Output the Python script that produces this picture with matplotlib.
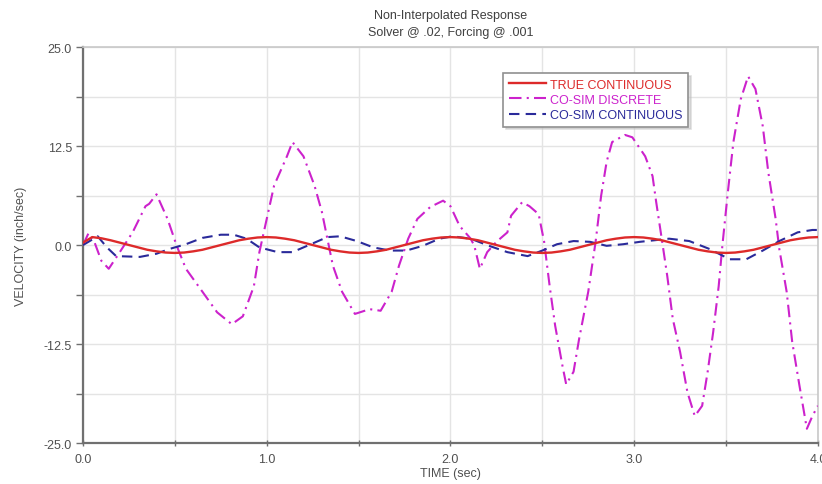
import numpy as np
import matplotlib
matplotlib.use("Agg")
import matplotlib.pyplot as plt
from matplotlib.ticker import MultipleLocator, FormatStrFormatter

plt.rcParams['font.family'] = ['Liberation Sans', 'DejaVu Sans']

# TRUE CONTINUOUS, sampled every 0.05 s
t_true = np.round(np.arange(81) * 0.05, 2)
v_true = [0.3, 1.0, 0.85, 0.6, 0.3, 0.0, -0.3, -0.6, -0.8, -0.95,
          -1.0, -0.95, -0.8, -0.6, -0.3, 0.0, 0.3, 0.6, 0.8, 0.95,
          1.0, 0.95, 0.8, 0.6, 0.3, 0.0, -0.3, -0.6, -0.8, -0.95,
          -1.0, -0.95, -0.8, -0.6, -0.3, 0.0, 0.3, 0.6, 0.8, 0.95,
          1.0, 0.95, 0.8, 0.6, 0.3, 0.0, -0.3, -0.6, -0.8, -0.95,
          -1.0, -0.95, -0.8, -0.6, -0.3, 0.0, 0.3, 0.6, 0.8, 0.95,
          1.0, 0.95, 0.8, 0.6, 0.3, 0.0, -0.3, -0.6, -0.8, -0.95,
          -1.0, -0.95, -0.8, -0.6, -0.3, 0.0, 0.3, 0.6, 0.8, 0.95,
          1.0]

# CO-SIM DISCRETE
t_disc = [0.00, 0.03, 0.06, 0.10, 0.14, 0.20, 0.27, 0.34, 0.36, 0.40,
          0.46, 0.51, 0.56, 0.65, 0.73, 0.81, 0.87, 0.93, 0.96, 1.00,
          1.04, 1.11, 1.14, 1.20, 1.26, 1.30, 1.33, 1.36, 1.41, 1.48,
          1.56, 1.62, 1.68, 1.72, 1.77, 1.82, 1.89, 1.96, 2.00, 2.05,
          2.11, 2.13, 2.16, 2.20, 2.25, 2.31, 2.33, 2.39, 2.43, 2.48,
          2.51, 2.54, 2.57, 2.61, 2.63, 2.67, 2.70, 2.75, 2.79, 2.82,
          2.85, 2.88, 2.95, 2.99, 3.06, 3.10, 3.12, 3.15, 3.18, 3.21,
          3.25, 3.29, 3.33, 3.37, 3.40, 3.43, 3.46, 3.48, 3.51, 3.54,
          3.58, 3.62, 3.66, 3.70, 3.73, 3.77, 3.79, 3.83, 3.86, 3.90,
          3.94, 3.97, 4.00]
v_disc = [0.0, 1.5, 0.5, -2.0, -3.0, -0.9, 1.6, 4.9, 5.2, 6.4,
          3.3, -0.1, -3.0, -5.9, -8.5, -10.0, -9.0, -5.2, -0.9, 3.3,
          7.5, 11.2, 13.0, 11.2, 7.5, 4.2, 0.8, -2.6, -5.9, -8.7,
          -8.1, -8.3, -5.9, -2.6, 0.8, 3.3, 4.8, 5.6, 4.9, 2.4,
          0.8, -0.1, -3.0, -0.9, 0.4, 1.6, 3.7, 5.4, 4.9, 3.9,
          0.4, -5.2, -10.2, -15.3, -17.6, -16.0, -11.9, -5.9, 0.4, 6.2,
          10.5, 13.0, 13.9, 13.6, 11.2, 8.7, 5.4, 0.8, -3.9, -9.3,
          -13.5, -18.6, -21.6, -20.3, -16.0, -11.0, -5.2, -0.1, 6.7, 13.0,
          18.4, 21.3, 19.7, 15.0, 9.2, 3.3, -0.5, -5.9, -12.2, -17.8,
          -23.2, -21.6, -20.3]

# CO-SIM CONTINUOUS
t_cont = [0.00, 0.08, 0.13, 0.18, 0.31, 0.40, 0.47, 0.56, 0.65, 0.75,
          0.82, 0.89, 0.96, 1.06, 1.14, 1.24, 1.33, 1.40, 1.49, 1.58,
          1.67, 1.76, 1.85, 1.94, 2.01, 2.11, 2.21, 2.31, 2.42, 2.50,
          2.58, 2.67, 2.76, 2.85, 2.94, 3.03, 3.19, 3.30, 3.41, 3.52,
          3.61, 3.70, 3.79, 3.89, 3.97, 4.00]
v_cont = [0.0, 1.1, -0.3, -1.4, -1.5, -1.1, -0.5, 0.1, 0.9, 1.3,
          1.3, 0.8, -0.3, -0.9, -0.9, 0.1, 1.0, 1.1, 0.5, -0.3,
          -0.7, -0.7, -0.1, 0.8, 1.1, 0.8, -0.1, -0.9, -1.4, -0.7,
          0.1, 0.5, 0.4, -0.1, 0.1, 0.4, 0.8, 0.5, -0.5, -1.8,
          -1.8, -0.7, 0.5, 1.6, 1.9, 1.9]

red = '#dd2a2a'
magenta = '#cc22cc'
blue = '#2a2a9a'
gray = '#707070'
txt = '#505050'

fig = plt.figure(figsize=(8.22, 4.85), dpi=100)
ax = fig.add_axes([0.101, 0.0845, 0.894, 0.8165])

ax.plot(t_true, v_true, color=red, lw=1.7, label='TRUE CONTINUOUS', zorder=4)
ax.plot(t_disc, v_disc, color=magenta, lw=1.5, linestyle=(0, (6, 2.5, 1, 2.5)),
        label='CO-SIM DISCRETE', zorder=3)
ax.plot(t_cont, v_cont, color=blue, lw=1.5, linestyle=(0, (5, 3)),
        label='CO-SIM CONTINUOUS', zorder=3)

ax.set_xlim(0, 4)
ax.set_ylim(-25, 25)
ax.xaxis.set_major_locator(MultipleLocator(1.0))
ax.xaxis.set_minor_locator(MultipleLocator(0.5))
ax.yaxis.set_major_locator(MultipleLocator(12.5))
ax.yaxis.set_minor_locator(MultipleLocator(6.25))
ax.xaxis.set_major_formatter(FormatStrFormatter('%.1f'))
ax.yaxis.set_major_formatter(FormatStrFormatter('%.1f'))
ax.grid(True, which='both', color='#e4e4e4', lw=1.0, zorder=0)
ax.set_axisbelow(True)

for s in ['top', 'right']:
    ax.spines[s].set_color('#c8c8c8')
    ax.spines[s].set_linewidth(1.2)
for s in ['left', 'bottom']:
    ax.spines[s].set_color(gray)
    ax.spines[s].set_linewidth(1.6)
ax.tick_params(axis='y', which='both', direction='out', color=gray, labelcolor=txt,
               labelsize=9, length=5, width=1, pad=3)
ax.tick_params(axis='x', which='both', direction='inout', color=gray, labelcolor=txt,
               labelsize=9, length=5, width=1, pad=5)

ax.set_xlabel('TIME (sec)', fontsize=9, color=txt, labelpad=1)
ax.set_ylabel('VELOCITY (inch/sec)', fontsize=9, color=txt, labelpad=12)
ax.set_title('Non-Interpolated Response\nSolver @ .02, Forcing @ .001',
             fontsize=9, color='#404040', pad=9, linespacing=1.45)

leg = ax.legend(loc='upper left', bbox_to_anchor=(0.563, 0.95), fontsize=9,
                labelcolor='linecolor', frameon=True, fancybox=False,
                shadow={'color': '#c0c0c0'},
                edgecolor='#909090', handlelength=3.0, handletextpad=0.3,
                borderpad=0.45, labelspacing=0.25)
leg.get_frame().set_linewidth(1.2)

fig.savefig('out.png', dpi=100)
